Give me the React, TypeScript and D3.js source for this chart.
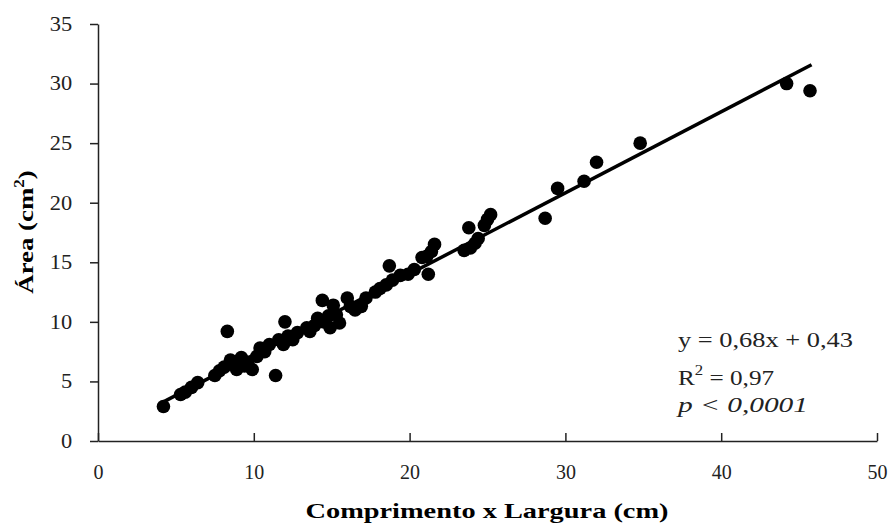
import React, { useEffect, useRef } from 'react';
import * as d3 from 'd3';

// Comprimento x Largura (cm) vs Área (cm²)
const xValues = [
  4.2, 5.3, 5.6, 6.0, 6.4, 7.5, 7.8, 8.1, 8.3, 8.5, 8.7, 8.9, 9.2, 9.4, 9.6, 9.9,
  10.2, 10.4, 10.7, 11.0, 11.4, 11.6, 11.9, 12.0, 12.2, 12.5, 12.8, 13.4, 13.6, 13.9,
  14.1, 14.4, 14.5, 14.8, 14.9, 15.1, 15.3, 15.5, 16.0, 16.2, 16.5, 16.9, 17.2, 17.8,
  18.1, 18.5, 18.7, 18.9, 19.4, 19.9, 20.3, 20.8, 21.1, 21.2, 21.4, 21.6, 23.5, 23.8,
  23.9, 24.2, 24.4, 24.8, 25.0, 25.2, 28.7, 29.5, 31.2, 32.0, 34.8, 44.2, 45.7,
];
const yValues = [
  2.9, 3.9, 4.1, 4.5, 4.9, 5.5, 5.9, 6.2, 9.2, 6.8, 6.4, 6.0, 7.0, 6.3, 6.6, 6.0,
  7.1, 7.8, 7.5, 8.1, 5.5, 8.5, 8.1, 10.0, 8.8, 8.5, 9.1, 9.5, 9.2, 9.7,
  10.3, 11.8, 10.0, 10.5, 9.5, 11.4, 10.6, 9.9, 12.0, 11.3, 11.0, 11.3, 12.0, 12.5,
  12.8, 13.1, 14.7, 13.5, 13.9, 14.0, 14.4, 15.4, 15.5, 14.0, 15.9, 16.5, 16.0, 17.9,
  16.2, 16.6, 17.0, 18.1, 18.6, 19.0, 18.7, 21.2, 21.8, 23.4, 25.0, 30.0, 29.4,
];

const xTicks = [0, 10, 20, 30, 40, 50];
const yTicks = [0, 5, 10, 15, 20, 25, 30, 35];

const slope = 0.68;
const intercept = 0.43;

const xTitle = 'Comprimento x Largura (cm)';
const yTitle = 'Área (cm';
const eqLine = 'y = 0,68x + 0,43';
const r2Value = ' = 0,97';
const pText = 'p < 0,0001';

const W = 893;
const H = 528;
const margin = { top: 24, right: 16, bottom: 87, left: 98 };
const font = "'Liberation Serif', 'Times New Roman', serif";

export default function App() {
  const ref = useRef<SVGSVGElement>(null);

  useEffect(() => {
    const svg = d3.select(ref.current);
    svg.selectAll('*').remove();

    const x = d3.scaleLinear().domain([0, 50]).range([margin.left, W - margin.right]);
    const y = d3.scaleLinear().domain([0, 35]).range([H - margin.bottom, margin.top]);

    // y axis
    const yAxis = svg.append('g')
      .attr('transform', `translate(${margin.left},0)`)
      .call(d3.axisLeft(y).tickValues(yTicks).tickSize(8).tickPadding(15).tickSizeOuter(0));
    yAxis.attr('font-family', null).attr('font-size', null);
    yAxis.select('.domain').attr('stroke', '#222').attr('stroke-width', 1.5);
    yAxis.selectAll('.tick line').attr('stroke', '#222').attr('stroke-width', 1.5);
    yAxis.selectAll('.tick text')
      .style('font-family', font).style('font-size', '20px').attr('fill', '#222')
      .attr('transform', 'scale(1.12,1)');

    // x axis, ticks pointing inward
    const xAxis = svg.append('g')
      .attr('transform', `translate(0,${H - margin.bottom})`)
      .call(d3.axisBottom(x).tickValues(xTicks).tickSize(-8).tickPadding(24).tickSizeOuter(0));
    xAxis.attr('font-family', null).attr('font-size', null);
    xAxis.select('.domain').attr('stroke', '#222').attr('stroke-width', 1.5);
    xAxis.selectAll('.tick line').attr('stroke', '#222').attr('stroke-width', 1.5);
    xAxis.selectAll('.tick text')
      .style('font-family', font).style('font-size', '20px').attr('fill', '#222');

    // regression line
    const [x0, x1] = d3.extent(xValues) as [number, number];
    const line = d3.line<number>().x((d) => x(d)).y((d) => y(slope * d + intercept));
    svg.append('path')
      .datum([x0, x1 + 0.1])
      .attr('d', line)
      .attr('fill', 'none')
      .attr('stroke', '#000')
      .attr('stroke-width', 3.5);

    // points
    svg.append('g')
      .selectAll('circle')
      .data(xValues.map((v, i) => [v, yValues[i]]))
      .enter().append('circle')
      .attr('cx', (d) => x(d[0]))
      .attr('cy', (d) => y(d[1]))
      .attr('r', 6.8)
      .attr('fill', '#000');

    // axis titles
    svg.append('text')
      .attr('x', 487)
      .attr('y', 518)
      .attr('text-anchor', 'middle')
      .style('font-family', font)
      .style('font-weight', 'bold')
      .style('font-size', '22px')
      .attr('textLength', 363)
      .attr('lengthAdjust', 'spacingAndGlyphs')
      .text(xTitle);

    const yt = svg.append('text')
      .attr('transform', 'translate(33,232) rotate(-90) scale(1.22,1)')
      .attr('text-anchor', 'middle')
      .style('font-family', font)
      .style('font-weight', 'bold')
      .style('font-size', '22px');
    yt.append('tspan').text(yTitle);
    yt.append('tspan').style('font-size', '14px').attr('dy', -9).text('2');
    yt.append('tspan').attr('dy', 9).text(')');

    // equation block
    const eq = svg.append('g').style('font-family', font).style('font-size', '21px').attr('fill', '#222');
    eq.append('text').attr('x', 678).attr('y', 347)
      .attr('textLength', 175).attr('lengthAdjust', 'spacingAndGlyphs').text(eqLine);
    const r2 = eq.append('text').attr('x', 678).attr('y', 385)
      .attr('transform', 'translate(678,0) scale(1.2,1) translate(-678,0)');
    r2.append('tspan').text('R');
    r2.append('tspan').style('font-size', '14px').attr('dy', -10).text('2');
    r2.append('tspan').attr('dy', 10).text(r2Value);
    eq.append('text').attr('x', 678).attr('y', 412).style('font-style', 'italic')
      .attr('textLength', 130).attr('lengthAdjust', 'spacingAndGlyphs').text(pText);
  }, []);

  return (
    <svg
      ref={ref}
      width={W}
      height={H}
      style={{ position: 'absolute', left: 0, top: 0, background: '#fff' }}
    />
  );
}
